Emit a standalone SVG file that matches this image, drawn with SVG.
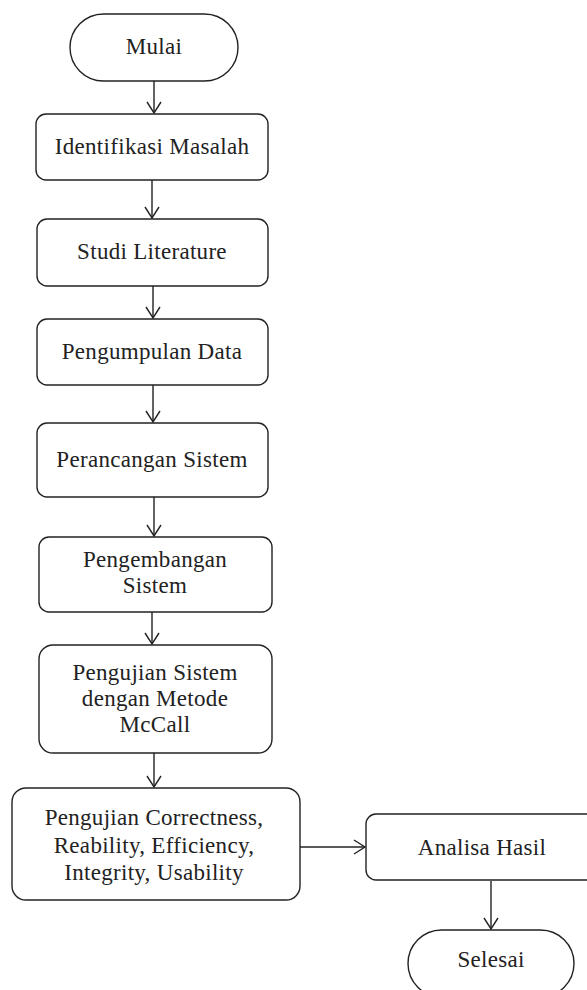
<svg xmlns="http://www.w3.org/2000/svg" width="587" height="990" viewBox="0 0 587 990">
<style>
.box{fill:#fff;stroke:#222;stroke-width:1.4}
.t{font-family:"Liberation Serif","Times New Roman",serif;font-size:23px;letter-spacing:0.3px;fill:#222;text-anchor:middle}
.c{fill:none;stroke:#222;stroke-width:1.4}
</style>
<defs>
<marker id="ah" markerUnits="userSpaceOnUse" markerWidth="16" markerHeight="18" refX="12" refY="8" orient="auto">
<path d="M1,1 L12,8 L1,15" fill="none" stroke="#222" stroke-width="1.4"/>
</marker>
</defs>
<rect width="587" height="990" fill="#fff"/>
<g id="connectors">
<line class="c" x1="154" y1="81" x2="154" y2="113" marker-end="url(#ah)"/>
<line class="c" x1="152" y1="180" x2="152" y2="218" marker-end="url(#ah)"/>
<line class="c" x1="153" y1="286" x2="153" y2="318" marker-end="url(#ah)"/>
<line class="c" x1="153" y1="385" x2="153" y2="422" marker-end="url(#ah)"/>
<line class="c" x1="154" y1="497" x2="154" y2="536" marker-end="url(#ah)"/>
<line class="c" x1="152" y1="612" x2="152" y2="644" marker-end="url(#ah)"/>
<line class="c" x1="154" y1="753" x2="154" y2="787" marker-end="url(#ah)"/>
<line class="c" x1="300" y1="847" x2="365" y2="847" marker-end="url(#ah)"/>
<line class="c" x1="491" y1="881" x2="491" y2="929" marker-end="url(#ah)"/>
</g>
<g id="mulai"><rect class="box" x="70" y="14" width="168" height="67" rx="33.5"/><text class="t" x="154" y="54">Mulai</text></g>
<g id="identifikasi"><rect class="box" x="36" y="114" width="232" height="66" rx="10"/><text class="t" x="152" y="154">Identifikasi Masalah</text></g>
<g id="studi"><rect class="box" x="37" y="219" width="231" height="67" rx="10"/><text class="t" x="152" y="259">Studi Literature</text></g>
<g id="pengumpulan"><rect class="box" x="37" y="319" width="231" height="66" rx="10"/><text class="t" x="152" y="359">Pengumpulan Data</text></g>
<g id="perancangan"><rect class="box" x="37" y="423" width="231" height="74" rx="10"/><text class="t" x="152" y="467">Perancangan Sistem</text></g>
<g id="pengembangan"><rect class="box" x="39" y="537" width="233" height="75" rx="10"/><text class="t" x="155" y="567">Pengembangan</text><text class="t" x="155" y="593">Sistem</text></g>
<g id="pengujian"><rect class="box" x="39" y="645" width="233" height="108" rx="14"/><text class="t" x="155" y="680">Pengujian Sistem</text><text class="t" x="155" y="706">dengan Metode</text><text class="t" x="155" y="732">McCall</text></g>
<g id="correctness"><rect class="box" x="12" y="788" width="288" height="112" rx="14"/><text class="t" x="154" y="825">Pengujian Correctness,</text><text class="t" x="154" y="853">Reability, Efficiency,</text><text class="t" x="154" y="880">Integrity, Usability</text></g>
<g id="analisa"><rect class="box" x="366" y="814" width="240" height="66" rx="10"/><text class="t" x="482" y="855">Analisa Hasil</text></g>
<g id="selesai"><rect class="box" x="408" y="930" width="166" height="67" rx="33.5"/><text class="t" x="491" y="967">Selesai</text></g>
</svg>
